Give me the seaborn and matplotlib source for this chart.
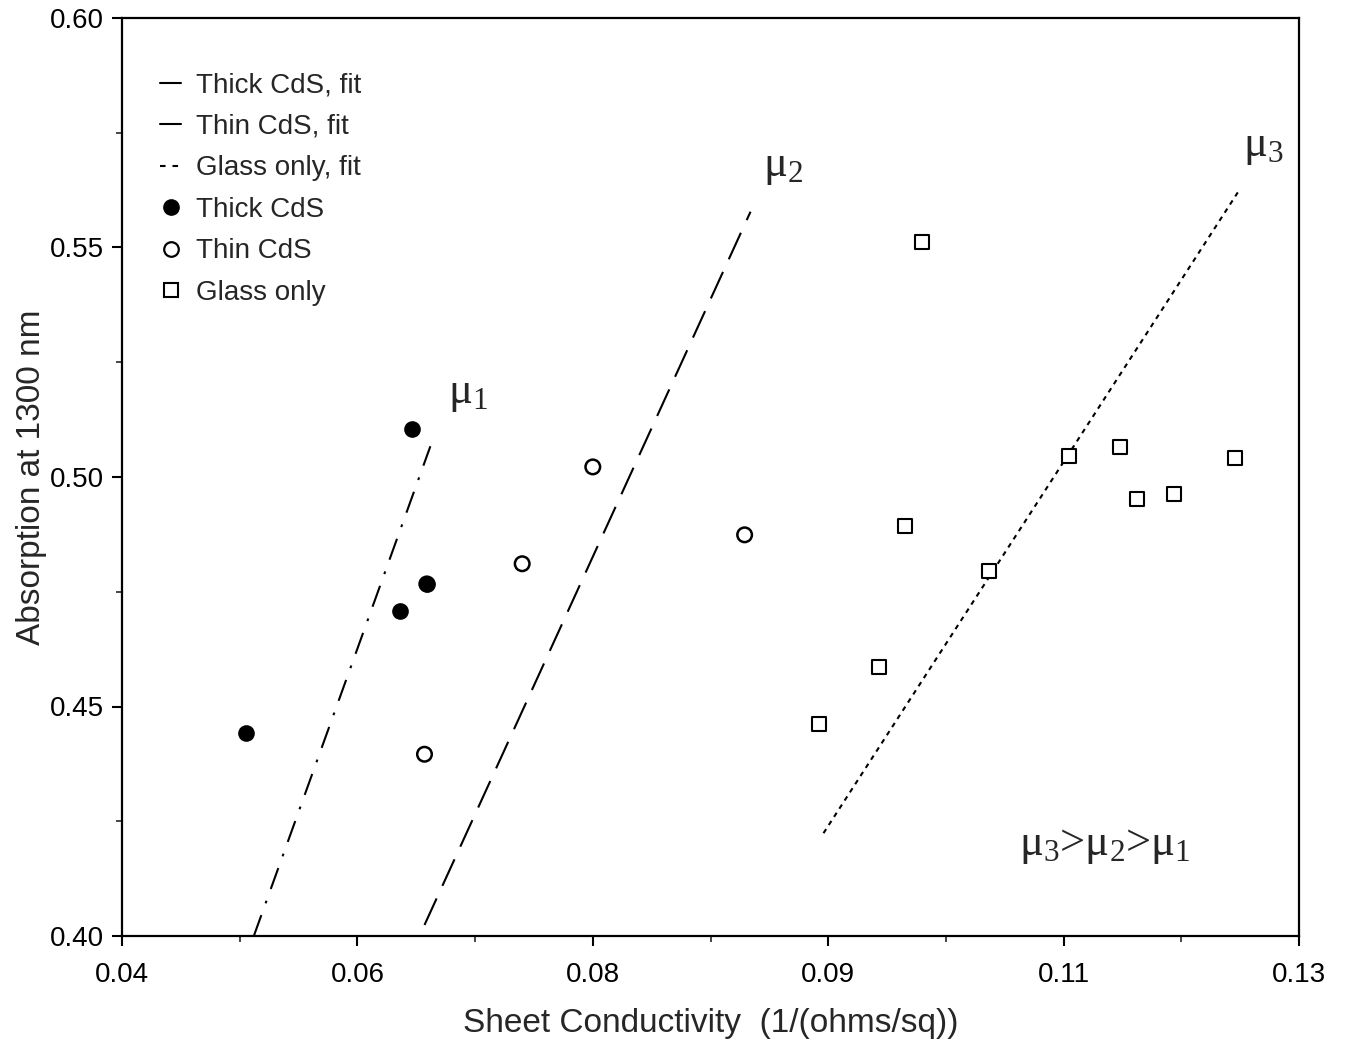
import numpy as np
import pandas as pd
import matplotlib
matplotlib.use("Agg")
import matplotlib.pyplot as plt
import seaborn as sns
from matplotlib.lines import Line2D
from matplotlib.ticker import FixedLocator, FixedFormatter, MultipleLocator

# ---- data ----
thick_x = [0.0505, 0.0646, 0.0636, 0.0659]
thick_y = [0.4443, 0.5104, 0.4707, 0.4767]

thin_x = [0.0657, 0.0740, 0.0800, 0.0929, 0.0659]
thin_y = [0.4396, 0.4811, 0.5022, 0.4874, 0.4767]

glass_x = [0.1080, 0.1205, 0.1248, 0.1262, 0.1294, 0.1346, 0.1065, 0.1137, 0.1043, 0.0992]
glass_y = [0.5513, 0.5046, 0.5065, 0.4952, 0.4963, 0.5041, 0.4894, 0.4796, 0.4587, 0.4461]

thick_fit_x = [0.0512, 0.0662]
thick_fit_y = [0.4000, 0.5067]
thin_fit_x = [0.0657, 0.0934]
thin_fit_y = [0.4024, 0.5578]
glass_fit_x = [0.0996, 0.1348]
glass_fit_y = [0.4224, 0.5620]

x_tick_vals = [0.04, 0.06, 0.08, 0.10, 0.12, 0.14]
x_tick_labels = ["0.04", "0.06", "0.08", "0.09", "0.11", "0.13"]
y_tick_vals = [0.40, 0.45, 0.50, 0.55, 0.60]
y_tick_labels = ["0.40", "0.45", "0.50", "0.55", "0.60"]

# ---- style ----
sns.set_theme(style="ticks")
plt.rcParams['font.family'] = ['Liberation Sans', 'DejaVu Sans']
plt.rcParams['lines.scale_dashes'] = False

fig = plt.figure(figsize=(13.46, 10.45), dpi=100)
ax = fig.add_axes([122/1346, 1 - 936/1045, (1299-122)/1346, (936-18)/1045])

lw = 1.5
sns.lineplot(x=thick_fit_x, y=thick_fit_y, ax=ax, color="black", lw=lw, sort=False)
ax.lines[-1].set_dashes((16, 9, 2, 9))
sns.lineplot(x=thin_fit_x, y=thin_fit_y, ax=ax, color="black", lw=lw, sort=False)
ax.lines[-1].set_dashes((21, 10))
sns.lineplot(x=glass_fit_x, y=glass_fit_y, ax=ax, color="black", lw=lw, sort=False)
ax.lines[-1].set_dashes((3.5, 3.5))

sns.scatterplot(x=thick_x, y=thick_y, ax=ax, marker="o", s=110,
                color="black", edgecolor="black", linewidth=1.5, zorder=3)
sns.scatterplot(x=thin_x, y=thin_y, ax=ax, marker="o", s=110,
                facecolor="none", edgecolor="black", linewidth=1.8, zorder=4)
sns.scatterplot(x=glass_x, y=glass_y, ax=ax, marker="s", s=110,
                facecolor="white", edgecolor="black", linewidth=1.5, zorder=3)

ax.set_xlim(0.04, 0.14)
ax.set_ylim(0.40, 0.60)
ax.xaxis.set_major_locator(FixedLocator(x_tick_vals))
ax.xaxis.set_major_formatter(FixedFormatter(x_tick_labels))
ax.yaxis.set_major_locator(FixedLocator(y_tick_vals))
ax.yaxis.set_major_formatter(FixedFormatter(y_tick_labels))
ax.xaxis.set_minor_locator(MultipleLocator(0.01))
ax.yaxis.set_minor_locator(MultipleLocator(0.025))
ax.tick_params(which="major", direction="out", length=7, width=1.5,
               labelsize=20, colors="black", pad=6)
ax.tick_params(axis="x", which="major", pad=12)
ax.tick_params(which="minor", direction="out", length=4, width=1.2)
ax.tick_params(top=False, right=False, which="both")
for sp in ax.spines.values():
    sp.set_visible(True)
    sp.set_linewidth(1.6)
    sp.set_color("black")

ax.set_xlabel("Sheet Conductivity  (1/(ohms/sq))", fontsize=24, labelpad=14)
ax.set_ylabel("Absorption at 1300 nm", fontsize=24, labelpad=2)

serif = ['Liberation Serif', 'DejaVu Serif']
ax.text(0.0694, 0.5180, r"$\mathregular{μ_1}$", fontsize=32, family=serif, ha="center", va="center")
ax.text(0.0962, 0.5675, r"$\mathregular{μ_2}$", fontsize=32, family=serif, ha="center", va="center")
ax.text(0.1370, 0.5720, r"$\mathregular{μ_3}$", fontsize=32, family=serif, ha="center", va="center")
ax.text(0.1235, 0.4195, r"$\mathregular{μ_3}$>$\mathregular{μ_2}$>$\mathregular{μ_1}$",
        fontsize=32, family=serif, ha="center", va="center")

handles = [
    Line2D([], [], color="black", lw=lw, ls="-"),
    Line2D([], [], color="black", lw=lw, ls="-"),
    Line2D([], [], color="black", lw=lw, dashes=(4, 5)),
    Line2D([], [], color="black", marker="o", ls="none", markersize=11),
    Line2D([], [], color="black", marker="o", ls="none", markersize=10.5,
           markerfacecolor="none", markeredgewidth=1.6),
    Line2D([], [], color="black", marker="s", ls="none", markersize=10.5,
           markerfacecolor="none", markeredgewidth=1.5),
]
labels = ["Thick CdS, fit", "Thin CdS, fit", "Glass only, fit",
          "Thick CdS", "Thin CdS", "Glass only"]
ax.legend(handles, labels, loc="upper left", bbox_to_anchor=(0.023, 0.953),
          frameon=False, fontsize=20, handlelength=0.75, handletextpad=0.55,
          labelspacing=0.56, borderaxespad=0)

fig.savefig("out.png", dpi=100)
